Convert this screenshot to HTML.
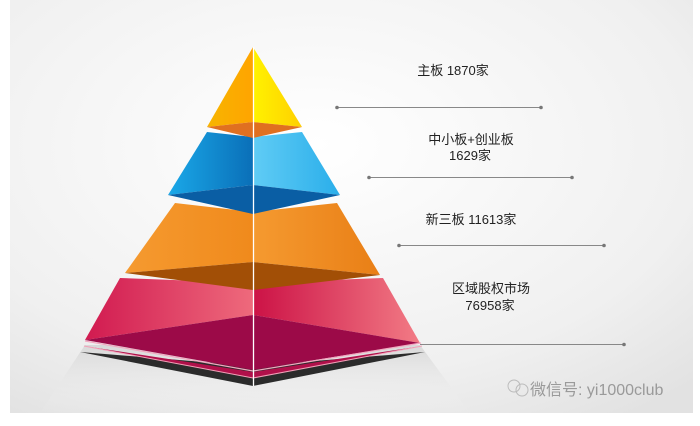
<!DOCTYPE html>
<html><head><meta charset="utf-8"><style>
html,body{margin:0;padding:0;background:#fff;}
.t{font-family:"Liberation Sans","Noto Sans CJK SC",sans-serif;font-size:13px;fill:#222;}
</style></head><body>
<svg width="700" height="421" viewBox="0 0 700 421" xmlns="http://www.w3.org/2000/svg">
<defs>
<radialGradient id="bg" cx="0.45" cy="0.35" r="0.8">
<stop offset="0" stop-color="#ffffff"/><stop offset="0.7" stop-color="#f0f0f0"/><stop offset="1" stop-color="#e2e2e2"/></radialGradient>
<linearGradient id="sh" x1="0" y1="0" x2="0" y2="1"><stop offset="0" stop-color="#d8d8d8"/><stop offset="1" stop-color="#f4f4f4" stop-opacity="0"/></linearGradient>
<linearGradient id="yl" x1="0" x2="1"><stop offset="0" stop-color="#f7b500"/><stop offset="1" stop-color="#ffa400"/></linearGradient>
<linearGradient id="yr" x1="0" x2="1"><stop offset="0" stop-color="#fff200"/><stop offset="1" stop-color="#ffd000"/></linearGradient>
<linearGradient id="bl" x1="0" x2="1"><stop offset="0" stop-color="#1aa8e8"/><stop offset="1" stop-color="#0a6fb8"/></linearGradient>
<linearGradient id="br" x1="0" x2="1"><stop offset="0" stop-color="#60ccf5"/><stop offset="1" stop-color="#2aaeea"/></linearGradient>
<linearGradient id="ol" x1="0" x2="1"><stop offset="0" stop-color="#f59a30"/><stop offset="1" stop-color="#f08a1c"/></linearGradient>
<linearGradient id="or" x1="0" x2="1"><stop offset="0" stop-color="#f59a30"/><stop offset="1" stop-color="#e97f16"/></linearGradient>
<linearGradient id="rl" x1="0" x2="1"><stop offset="0" stop-color="#d11a50"/><stop offset="1" stop-color="#ee6a7c"/></linearGradient>
<linearGradient id="rr" x1="0" x2="1"><stop offset="0" stop-color="#cc1246"/><stop offset="1" stop-color="#f27b85"/></linearGradient>
</defs>
<rect x="0" y="0" width="700" height="421" fill="#fff"/>
<rect x="10" y="0" width="683" height="413" fill="url(#bg)"/>
<polygon points="85,345 420,345 470,413 40,413" fill="url(#sh)"/>
<!-- base shadow plate -->
<polygon points="80,352 253,386 425,352 253,366" fill="#2b2b2b"/>
<polygon points="84,346 253,378 422,346 253,372" fill="#b0104a"/>
<polyline points="84,346 253,378 422,346" fill="none" stroke="#f3a0b8" stroke-width="1"/>
<!-- red -->
<polygon points="120,278 253,283 253,315 85,340" fill="url(#rl)"/>
<polygon points="253,283 383,278 420,343 253,315" fill="url(#rr)"/>
<polygon points="85,340 253,315 420,343 253,370" fill="#9c0a48"/>
<polyline points="85,341 253,371 421,343" fill="none" stroke="#f2a8c0" stroke-width="1.2"/>
<!-- orange -->
<polygon points="175,203 253,212 253,262 125,273" fill="url(#ol)"/>
<polygon points="253,212 337,203 380,275 253,262" fill="url(#or)"/>
<polygon points="125,273 253,262 380,275 253,290" fill="#a24f06"/>
<!-- blue -->
<polygon points="207,132 253,137 253,185 168,195" fill="url(#bl)"/>
<polygon points="253,137 302,132 340,195 253,185" fill="url(#br)"/>
<polygon points="168,195 253,185 340,195 253,214" fill="#0a5ea4"/>
<!-- yellow -->
<polygon points="253,47 253,122 207,127" fill="url(#yl)"/>
<polygon points="253,47 302,127 253,122" fill="url(#yr)"/>
<polygon points="207,127 253,122 302,127 253,138" fill="#e07020"/>
<line x1="253.5" y1="47" x2="253.5" y2="386" stroke="#fff" stroke-width="1.3"/>
<!-- lines -->
<g stroke="#888" stroke-width="1" fill="#777">
<line x1="337" y1="107.5" x2="541" y2="107.5"/><circle cx="337" cy="107.5" r="1.8" stroke="none"/><circle cx="541" cy="107.5" r="1.8" stroke="none"/>
<line x1="369" y1="177.5" x2="572" y2="177.5"/><circle cx="369" cy="177.5" r="1.8" stroke="none"/><circle cx="572" cy="177.5" r="1.8" stroke="none"/>
<line x1="399" y1="245.5" x2="604" y2="245.5"/><circle cx="399" cy="245.5" r="1.8" stroke="none"/><circle cx="604" cy="245.5" r="1.8" stroke="none"/>
<line x1="420" y1="344.5" x2="624" y2="344.5"/><circle cx="624" cy="344.5" r="1.8" stroke="none"/>
</g>
<g class="t" text-anchor="middle">
<text x="453" y="75">主板 1870家</text>
<text x="471" y="144">中小板+创业板</text>
<text x="470" y="160">1629家</text>
<text x="471" y="224">新三板 11613家</text>
<text x="491" y="293">区域股权市场</text>
<text x="490" y="310">76958家</text>
</g>
<circle cx="514" cy="386" r="6" fill="none" stroke="#bbb" stroke-width="1"/>
<circle cx="522" cy="390" r="6" fill="none" stroke="#bbb" stroke-width="1"/>
<text x="530" y="395" style="font-family:'Liberation Sans','Noto Sans CJK SC',sans-serif;font-size:16px;fill:#9a9a9a">微信号: yi1000club</text>
</svg>
</body></html>
